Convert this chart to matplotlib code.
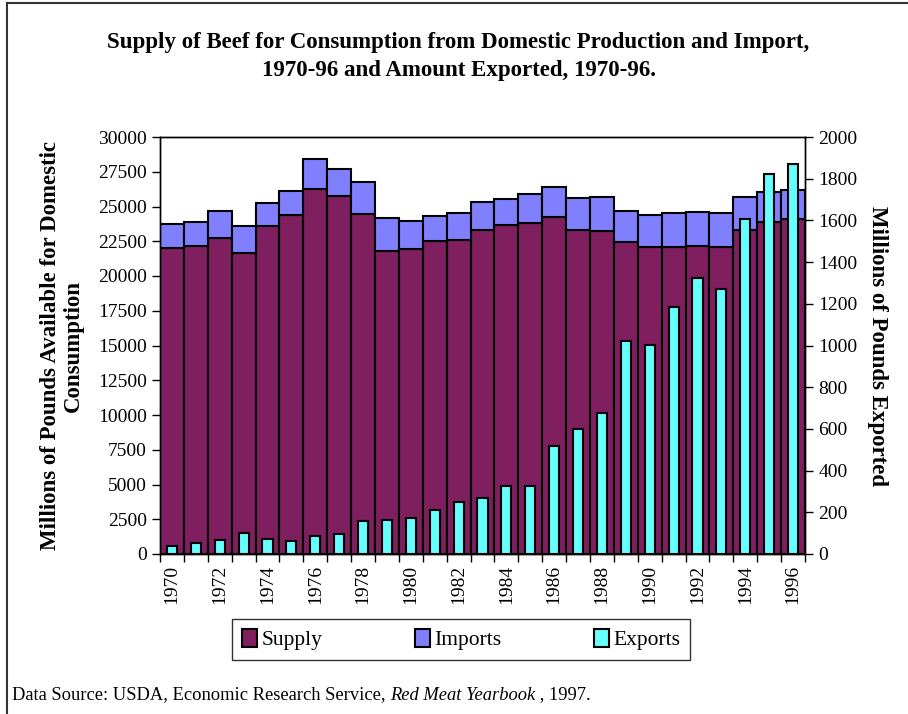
import numpy as np
import matplotlib
matplotlib.use("Agg")
from matplotlib import pyplot as plt
from matplotlib.patches import Patch
from matplotlib.lines import Line2D

years = list(range(1970, 1997))
# total of domestic supply + imports (top of the stacked bar), millions of lb
total = [23720, 23885, 24676, 23597, 25228, 26138, 28393, 27672, 26763, 24190,
         23978, 24316, 24508, 25323, 25515, 25898, 26378, 25611, 25659, 24676,
         24387, 24531, 24627, 24555, 25659, 26043, 26187]
supply = [21990, 22135, 22710, 21630, 23597, 24387, 26259, 25755, 24460, 21798,
          21918, 22518, 22565, 23333, 23669, 23813, 24220, 23309, 23261, 22470,
          22062, 22110, 22134, 22110, 23309, 23885, 24124]
imports = [t - s for t, s in zip(total, supply)]
exports = [38, 54, 67, 102, 70, 62, 85, 94, 158, 165,
           171, 213, 249, 269, 326, 326, 520, 598, 678, 1020,
           1004, 1186, 1322, 1273, 1608, 1821, 1872]

c_supply = "#7F1F5F"
c_imports = "#8080FF"
c_exports = "#66FFFF"

plt.rcParams['font.family'] = ['Liberation Serif', 'DejaVu Serif']

fig = plt.figure(figsize=(9.08, 7.14), dpi=100)
ax = fig.add_axes([160/908, 1-554/714, 645/908, 417/714])
x = np.arange(len(years))

ax.bar(x, supply, width=1.0, color=c_supply, edgecolor="black", linewidth=1.5, zorder=2)
ax.bar(x, imports, bottom=supply, width=1.0, color=c_imports, edgecolor="black", linewidth=1.5, zorder=2)
ax.set_xlim(-0.5, len(years) - 0.5)
ax.set_ylim(0, 30000)
ax.set_yticks(np.arange(0, 30001, 2500))
ax.tick_params(axis='y', labelsize=14, length=6, width=1, direction='out')
ax.set_xticks(x[::2])
ax.set_xticklabels([str(y) for y in years[::2]], rotation=90, fontsize=14)
ax.set_xticks(np.arange(-0.5, len(years), 1.0), minor=True)
ax.tick_params(axis='x', which='major', length=0, pad=8)
ax.tick_params(axis='x', which='minor', length=6, width=1)
ax.set_ylabel("Millions of Pounds Available for Domestic\nConsumption",
              fontsize=16.5, fontweight='bold', labelpad=10, linespacing=1.1)

ax2 = ax.twinx()
ax2.bar(x, exports, width=0.42, color=c_exports, edgecolor="black", linewidth=1.5, zorder=3)
ax2.set_ylim(0, 2000)
ax2.set_yticks(np.arange(0, 2001, 200))
ax2.tick_params(axis='y', labelsize=14, length=6, width=1, direction='out')
ax2.set_ylabel("Millions of Pounds Exported", rotation=270, fontsize=16.5,
               fontweight='bold', labelpad=22)

for a in (ax, ax2):
    for s in a.spines.values():
        s.set_linewidth(1)

fig.text(0.505, 0.955, "Supply of Beef for Consumption from Domestic Production and Import,\n1970-96 and Amount Exported, 1970-96.",
         ha='center', va='top', fontsize=16.5, fontweight='bold', linespacing=1.45)

handles = [Patch(facecolor=c, edgecolor='black', linewidth=1.5) for c in (c_supply, c_imports, c_exports)]
leg = fig.legend(handles, ["Supply", "Imports", "Exports"], loc='center',
                 bbox_to_anchor=(0.508, 0.104), ncol=3, fontsize=15.5, frameon=True,
                 fancybox=False, edgecolor='black', handlelength=0.7, handleheight=0.9,
                 handletextpad=0.2, columnspacing=4.3, borderpad=0.45, borderaxespad=0)
leg.get_frame().set_linewidth(1)

ys = 1-695/714
base = fig.text(12/908, ys, "Data Source: USDA, Economic Research Service, ", fontsize=13.3, va='center')
fig.canvas.draw()
r = fig.canvas.get_renderer()
bb = base.get_window_extent(r)
it = fig.text(bb.x1/908, ys, "Red Meat Yearbook", fontsize=13.3, style='italic', va='center')
bb2 = it.get_window_extent(r)
fig.text(bb2.x1/908, ys, " , 1997.", fontsize=13.3, va='center')

# outer border of the chart area
fig.add_artist(Line2D([7/908, 7/908], [0, 1-3/714], color='#333333', linewidth=1.5))
fig.add_artist(Line2D([7/908, 1], [1-3/714, 1-3/714], color='#333333', linewidth=1.5))

fig.savefig("out.png", dpi=100)
